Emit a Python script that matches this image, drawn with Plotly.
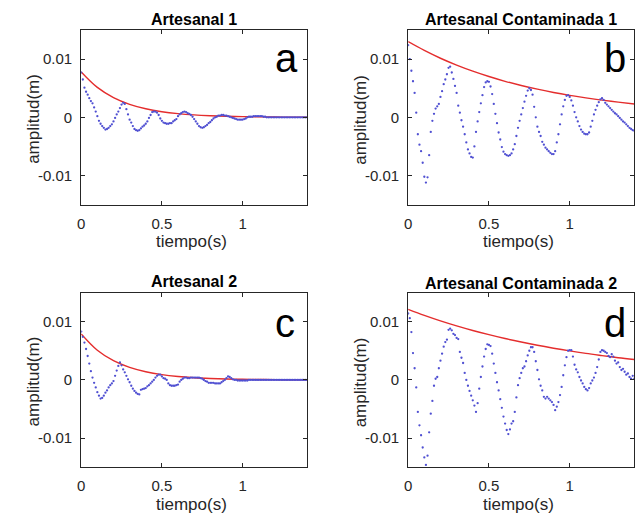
import plotly.graph_objects as go

W, H = 639, 518

# ---------------- data (amplitudes in mm) ----------------
time_s = [0.00, 0.01, 0.02, 0.03, 0.04, 0.05, 0.06, 0.07, 0.08, 0.09,
          0.10, 0.11, 0.12, 0.13, 0.14, 0.15, 0.16, 0.17, 0.18, 0.19,
          0.20, 0.21, 0.22, 0.23, 0.24, 0.25, 0.26, 0.27, 0.28, 0.29,
          0.30, 0.31, 0.32, 0.33, 0.34, 0.35, 0.36, 0.37, 0.38, 0.39,
          0.40, 0.41, 0.42, 0.43, 0.44, 0.45, 0.46, 0.47, 0.48, 0.49,
          0.50, 0.51, 0.52, 0.53, 0.54, 0.55, 0.56, 0.57, 0.58, 0.59,
          0.60, 0.61, 0.62, 0.63, 0.64, 0.65, 0.66, 0.67, 0.68, 0.69,
          0.70, 0.71, 0.72, 0.73, 0.74, 0.75, 0.76, 0.77, 0.78, 0.79,
          0.80, 0.81, 0.82, 0.83, 0.84, 0.85, 0.86, 0.87, 0.88, 0.89,
          0.90, 0.91, 0.92, 0.93, 0.94, 0.95, 0.96, 0.97, 0.98, 0.99,
          1.00, 1.01, 1.02, 1.03, 1.04, 1.05, 1.06, 1.07, 1.08, 1.09,
          1.10, 1.11, 1.12, 1.13, 1.14, 1.15, 1.16, 1.17, 1.18, 1.19,
          1.20, 1.21, 1.22, 1.23, 1.24, 1.25, 1.26, 1.27, 1.28, 1.29,
          1.30, 1.31, 1.32, 1.33, 1.34, 1.35, 1.36, 1.37, 1.38, 1.39,
          1.40]

amp_a_mm = [7.7, 6.5, 5.1, 4.4, 3.9, 3.3, 2.8, 2.4, 1.7, 1.0,
            0.2, -0.6, -1.1, -1.5, -1.8, -2.1, -2.0, -1.8, -1.5, -1.2,
            -0.7, -0.1, 0.5, 1.0, 1.6, 2.2, 2.5, 2.3, 1.4, 0.5,
            -0.4, -0.9, -1.5, -2.0, -2.2, -2.3, -2.2, -1.9, -1.6, -1.4,
            -1.1, -0.7, -0.1, 0.4, 0.9, 1.0, 1.0, 0.8, 0.4, -0.2,
            -0.6, -0.9, -1.0, -1.1, -1.1, -1.0, -1.0, -0.7, -0.5, -0.3,
            0.2, 0.5, 0.7, 0.9, 1.0, 0.9, 0.7, 0.6, 0.4, 0.1,
            -0.3, -0.7, -1.1, -1.5, -1.7, -1.8, -1.7, -1.5, -1.3, -1.0,
            -0.8, -0.5, -0.2, 0.0, 0.1, 0.3, 0.3, 0.4, 0.4, 0.3,
            0.3, 0.2, 0.1, 0.0, -0.1, -0.2, -0.3, -0.4, -0.4, -0.4,
            -0.4, -0.3, -0.2, 0.0, 0.1, 0.1, 0.1, 0.2, 0.2, 0.2,
            0.2, 0.2, 0.2, 0.1, 0.1, 0.0, 0.0, 0.0, 0.0, 0.0,
            0.0, 0.0, 0.0, 0.0, 0.0, 0.0, 0.0, 0.0, 0.0, 0.0,
            0.0, 0.0, 0.0, 0.0, 0.0, 0.0, 0.0, 0.0, 0.0, 0.0,
            0.0]

amp_b_mm = [12.4, 10.0, 8.0, 6.2, 4.2, 0.8, -2.9, -4.7, -5.8, -7.8,
            -10.2, -11.2, -10.3, -6.5, -2.5, -0.6, 0.6, 1.5, 1.9, 2.3,
            3.5, 4.5, 5.7, 6.5, 7.4, 8.5, 8.7, 7.7, 6.6, 5.4,
            4.2, 2.0, 0.8, -0.5, -1.6, -2.9, -4.3, -5.5, -6.2, -6.8,
            -6.9, -5.0, -2.5, -0.7, 0.9, 2.4, 3.8, 5.2, 6.0, 6.2,
            6.1, 5.3, 4.0, 2.3, 0.6, -1.0, -2.6, -3.8, -5.1, -5.9,
            -6.3, -6.5, -6.6, -6.5, -6.2, -5.5, -4.6, -3.2, -1.8, -0.6,
            0.5, 1.6, 2.7, 3.7, 4.6, 5.0, 4.7, 3.9, 1.8, 0.0,
            -1.6, -2.5, -3.2, -4.2, -4.7, -5.2, -5.5, -5.8, -6.1, -6.3,
            -6.3, -5.8, -4.3, -2.9, -1.2, 0.5, 1.9, 3.0, 3.7, 3.8,
            3.5, 2.9, 2.0, 0.9, 0.0, -0.7, -1.5, -2.1, -2.5, -2.8,
            -2.9, -2.9, -2.6, -1.6, -0.6, 0.5, 1.3, 2.0, 2.6, 3.1,
            3.3, 3.0, 2.5, 2.2, 1.9, 1.6, 1.3, 1.0, 0.7, 0.5,
            0.2, -0.1, -0.4, -0.7, -0.9, -1.2, -1.5, -1.8, -2.0, -2.2,
            -2.3]

amp_c_mm = [8.3, 7.4, 6.4, 5.3, 4.1, 2.8, 1.5, 0.4, -0.5, -1.3,
            -2.1, -2.7, -3.2, -3.1, -2.7, -2.2, -1.8, -1.3, -0.9, -0.6,
            -0.2, 0.7, 1.6, 2.4, 3.0, 2.5, 1.8, 1.3, 0.7, 0.1,
            -0.4, -1.0, -1.5, -1.9, -2.2, -2.4, -2.5, -1.7, -1.6, -1.5,
            -1.4, -1.1, -0.9, -0.6, -0.3, 0.0, 0.4, 0.7, 0.9, 0.9,
            0.6, 0.3, 0.2, 0.0, -0.6, -0.9, -1.0, -1.0, -1.0, -0.9,
            -0.8, -0.3, 0.0, 0.2, 0.4, 0.4, 0.3, 0.3, 0.4, 0.4,
            0.4, 0.4, 0.4, 0.4, 0.3, 0.2, 0.0, -0.2, -0.3, -0.5,
            -0.5, -0.5, -0.5, -0.6, -0.6, -0.6, -0.6, -0.4, -0.2, 0.0,
            0.3, 0.6, 0.5, 0.3, 0.1, 0.0, 0.0, -0.1, -0.1, -0.1,
            -0.1, -0.1, -0.1, -0.1, 0.0, 0.0, 0.0, 0.0, 0.0, 0.0,
            0.0, 0.0, 0.0, 0.0, 0.0, 0.0, 0.0, 0.0, 0.0, 0.0,
            0.0, 0.0, 0.0, 0.0, 0.0, 0.0, 0.0, 0.0, 0.0, 0.0,
            0.0, 0.0, 0.0, 0.0, 0.0, 0.0, 0.0, 0.0, 0.0, 0.0,
            0.0]

amp_d_mm = [11.4, 10.6, 8.2, 4.6, 2.0, -1.3, -5.5, -7.8, -9.5, -11.6,
            -13.3, -14.6, -13.0, -9.0, -5.8, -3.6, -1.0, 0.2, 0.5, 2.0,
            3.3, 4.5, 5.7, 6.5, 6.9, 8.6, 8.8, 8.5, 7.9, 7.7,
            7.2, 7.0, 4.8, 3.8, 2.9, 1.2, 0.0, -1.0, -1.9, -2.7,
            -3.5, -4.4, -5.5, -4.0, -1.5, 0.5, 2.3, 4.0, 5.3, 6.1,
            6.0, 5.8, 4.5, 2.8, 1.2, -0.4, -1.8, -3.3, -4.8, -6.3,
            -7.5, -8.6, -9.3, -8.5, -7.5, -7.1, -5.5, -3.0, -0.9, 0.3,
            1.2, 2.0, 2.3, 3.2, 4.2, 5.0, 5.6, 5.6, 4.8, 3.2,
            1.7, 0.1, -1.0, -1.8, -2.9, -3.2, -2.9, -3.2, -3.5, -3.8,
            -4.3, -5.2, -4.6, -3.8, -2.6, -1.2, 0.8, 2.5, 3.9, 5.0,
            5.1, 5.1, 4.0, 2.6, 1.8, 1.3, 0.5, -0.1, -0.6, -1.2,
            -1.6, -1.8, -1.4, -0.6, -0.1, 0.4, 1.2, 2.2, 3.5, 4.8,
            5.1, 5.0, 4.8, 4.6, 4.1, 3.9, 4.4, 4.0, 3.3, 2.8,
            3.0, 2.2, 1.7, 1.9, 1.4, 0.9, 1.1, 0.5, 0.2, 0.7,
            0.2]

# fitted exponential envelopes (mm), read at 0.1 s steps
env_t = [0.0, 0.1, 0.2, 0.3, 0.4, 0.5, 0.6, 0.7, 0.8, 0.9, 1.0, 1.1, 1.2, 1.3, 1.4]
env_a_mm = [7.8, 5.14, 3.39, 2.23, 1.47, 0.97, 0.64, 0.42, 0.28, 0.18, 0.12, 0.08, 0.05, 0.03, 0.02]
env_b_mm = [13.0, 11.49, 10.15, 8.97, 7.93, 7.01, 6.19, 5.47, 4.84, 4.27, 3.78, 3.34, 2.95, 2.61, 2.30]
env_c_mm = [7.9, 5.1, 3.3, 2.15, 1.4, 0.9, 0.58, 0.38, 0.25, 0.16, 0.1, 0.07, 0.04, 0.03, 0.02]
env_d_mm = [12.1, 11.07, 10.13, 9.27, 8.48, 7.76, 7.10, 6.50, 5.94, 5.44, 4.98, 4.55, 4.17, 3.81, 3.49]

titles = ["Artesanal 1", "Artesanal Contaminada 1", "Artesanal 2", "Artesanal Contaminada 2"]
letters = ["a", "b", "c", "d"]
x_ticks = [0, 0.5, 1]
x_ticktext = ["0", "0.5", "1"]
y_ticks = [-0.01, 0, 0.01]
y_ticktext = ["-0.01", "0", "0.01"]

# ---------------- layout geometry (pixels) ----------------
panels = [
    dict(x0=77.7, x1=305.0, y0=30.0, y1=204.7, amp=amp_a_mm, env=env_a_mm),
    dict(x0=406.7, x1=634.3, y0=30.0, y1=204.7, amp=amp_b_mm, env=env_b_mm),
    dict(x0=77.7, x1=305.0, y0=292.5, y1=467.3, amp=amp_c_mm, env=env_c_mm),
    dict(x0=406.7, x1=634.3, y0=292.5, y1=467.3, amp=amp_d_mm, env=env_d_mm),
]
letter_pos = [(284, 58), (615, 58), (283, 323), (615, 323)]
title_y = [19, 19, 281.5, 283]

def fx(x):
    return x / W

def fy(y):
    return 1 - y / H

AX = "#262626"
FONT = "Liberation Sans, Arial, sans-serif"

fig = go.Figure()
annotations = []
layout_axes = {}

for i, p in enumerate(panels):
    n = i + 1
    xa = "x" if n == 1 else f"x{n}"
    ya = "y" if n == 1 else f"y{n}"
    fig.add_trace(go.Scatter(
        x=env_t, y=[v / 1000 for v in p["env"]], mode="lines",
        line=dict(color="rgb(228,45,45)", width=1.4, shape="spline"),
        xaxis=xa, yaxis=ya, showlegend=False, hoverinfo="skip"))
    fig.add_trace(go.Scatter(
        x=time_s, y=[v / 1000 for v in p["amp"]], mode="markers",
        marker=dict(color="rgb(80,80,210)", size=2.3, line=dict(width=0)),
        xaxis=xa, yaxis=ya, showlegend=False))

    common = dict(showgrid=False, zeroline=False, showline=True, linecolor=AX,
                  linewidth=1, mirror="allticks", ticks="inside", ticklen=4,
                  tickcolor=AX, tickfont=dict(family=FONT, size=15, color=AX))
    layout_axes[f"xaxis{'' if n == 1 else n}"] = dict(
        domain=[fx(p["x0"]), fx(p["x1"])], range=[0, 1.4], anchor=ya,
        tickvals=x_ticks, ticktext=x_ticktext, ticklabelstandoff=5, **common)
    layout_axes[f"yaxis{'' if n == 1 else n}"] = dict(
        domain=[fy(p["y1"]), fy(p["y0"])], range=[-0.015, 0.015], anchor=xa,
        tickvals=y_ticks, ticktext=y_ticktext, ticklabelstandoff=5, **common)

    cx = (p["x0"] + p["x1"]) / 2
    cy = (p["y0"] + p["y1"]) / 2
    annotations.append(dict(text=f"<b>{titles[i]}</b>", x=fx(cx), y=fy(title_y[i]),
                            xref="paper", yref="paper", xanchor="center", yanchor="middle",
                            showarrow=False, font=dict(family=FONT, size=16, color="black")))
    annotations.append(dict(text="tiempo(s)", x=fx(cx - 3), y=fy(p["y1"] + 37),
                            xref="paper", yref="paper", xanchor="center", yanchor="middle",
                            showarrow=False, font=dict(family=FONT, size=17, color=AX)))
    annotations.append(dict(text="amplitud(m)", x=fx(p["x0"] - 48), y=fy(cy + 2), textangle=-90,
                            xref="paper", yref="paper", xanchor="center", yanchor="middle",
                            showarrow=False, font=dict(family=FONT, size=17, color=AX)))
    lx, ly = letter_pos[i]
    annotations.append(dict(text=letters[i], x=fx(lx), y=fy(ly),
                            xref="paper", yref="paper", xanchor="center", yanchor="middle",
                            showarrow=False, font=dict(family=FONT, size=40, color="black")))

fig.update_layout(
    width=W, height=H, margin=dict(l=0, r=0, t=0, b=0),
    paper_bgcolor="white", plot_bgcolor="white",
    annotations=annotations, showlegend=False, **layout_axes)

fig.write_html("out.html", config={"displayModeBar": False},
               post_script="document.body.style.margin='0';")
